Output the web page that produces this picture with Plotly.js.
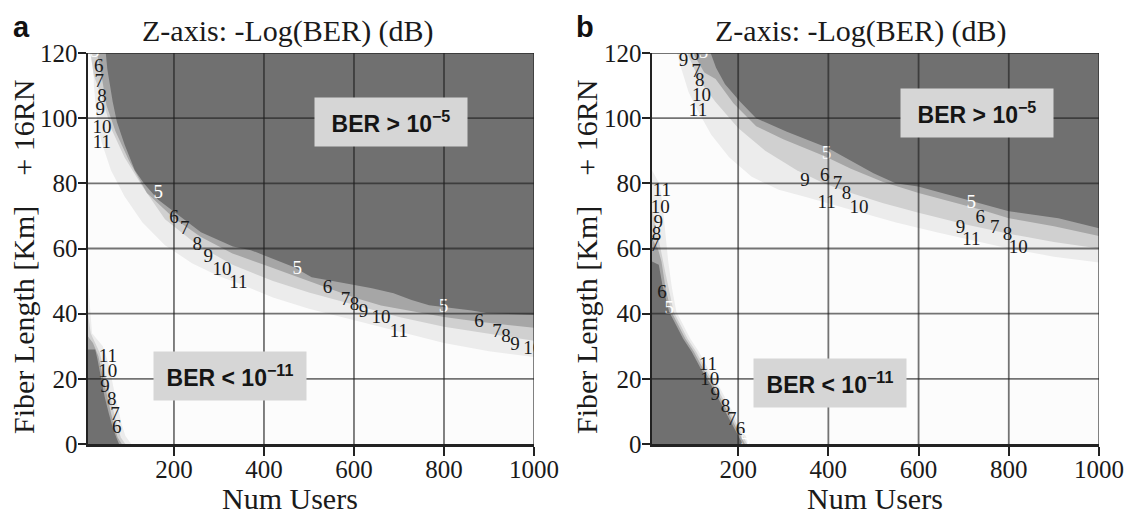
<!DOCTYPE html>
<html><head><meta charset="utf-8">
<script src="https://cdn.plot.ly/plotly-3.0.1.min.js"></script>
<style>html,body{margin:0;padding:0;background:#fff}</style>
</head><body>
<div id="chart" style="width:1126px;height:516px"></div>
<script>
// ---------- axis ticks ----------
const xTicks = [200, 400, 600, 800, 1000];
const yTicks = [0, 20, 40, 60, 80, 100, 120];

// ---------- panel a : contour lines of -log(BER), upper region (BER > 1e-5 side) ----------
const aUpL5x  = [9, 45, 52, 64, 73, 90, 113, 133, 165, 204, 260, 331, 371, 466, 506, 577, 640, 688, 728, 767, 807, 862, 894, 1000];
const aUpL5y  = [135, 125, 115, 105, 99, 92, 84, 80, 75, 71, 65, 60.6, 59.5, 54.3, 51.2, 49.4, 47.8, 46.3, 44.2, 42.6, 42, 41, 40.2, 39.5];
const aUpL6x  = [9, 25, 36, 50, 70, 100, 140, 200, 260, 330, 400, 470, 541, 600, 660, 720, 800, 878, 940, 1000];
const aUpL6y  = [135, 122, 115.6, 104, 96, 87, 77, 69.3, 63.5, 58.5, 55, 51.5, 47.8, 45, 42.5, 41, 39, 37.5, 36.5, 35.5];
const aUpL8x  = [9, 22, 40, 60, 90, 130, 180, 252, 330, 420, 500, 601, 700, 800, 938, 1000];
const aUpL8y  = [125, 113, 106.4, 97, 88, 79, 69, 61.1, 55, 50, 46.5, 42.6, 39, 36, 32.9, 31.5];
const aUpL11x = [18, 22, 30, 40, 60, 90, 130, 180, 240, 300, 343, 420, 500, 600, 700, 800, 900, 1000];
const aUpL11y = [135, 110, 98, 92.3, 84, 76, 68, 61, 55.5, 51.5, 49.3, 45, 41.5, 38, 34.4, 31, 28.5, 26.5];
// panel a : lower-left region (BER < 1e-11 side)
const aLoL5x  = [9, 25, 30, 38, 46, 55, 64, 72, 78];
const aLoL5y  = [29, 29, 26, 20, 14.5, 9.5, 5, 2, 0];
const aLoL6x  = [9, 20, 32, 42, 51, 60, 68, 75, 84];
const aLoL6y  = [33, 31, 27, 20.5, 14.5, 9.5, 5, 2, 0];
const aLoL8x  = [9, 15, 35, 48, 58, 66, 74, 82, 92];
const aLoL8y  = [40, 34, 28, 21, 15, 10, 5.5, 2, 0];
const aLoL11x = [9, 14, 18, 42, 56, 66, 75, 84, 92, 105];
const aLoL11y = [50, 42, 34, 30, 24, 17, 11, 6, 2.5, 0];

// ---------- panel b ----------
const bUpL5x  = [128, 139, 151, 171, 205, 240, 308, 398, 460, 500, 549, 599, 693, 800, 910, 1000];
const bUpL5y  = [128, 120, 115.5, 110.4, 105, 100, 95.8, 90.9, 86.2, 83.1, 80, 79, 75.5, 71.4, 69.3, 66.2];
const bUpL6x  = [85, 103, 125, 150, 190, 240, 300, 392, 450, 520, 600, 680, 737, 800, 900, 1000];
const bUpL6y  = [128, 119.2, 114, 112, 104.5, 97.5, 93.5, 88.3, 84.5, 80.5, 77, 74, 72, 69.3, 66.8, 63.8];
const bUpL8x  = [75, 90, 115, 150, 200, 260, 330, 390, 440, 520, 600, 700, 797, 900, 1000];
const bUpL8y  = [128, 119, 111.4, 105, 97, 90, 84, 80, 77.5, 74, 71, 67.5, 64.6, 62, 60];
const bUpL11x = [50, 70, 90, 111, 140, 180, 230, 290, 350, 396, 470, 550, 640, 717, 800, 900, 1000];
const bUpL11y = [128, 117, 108, 102.2, 95, 88, 82, 78, 75.8, 74, 71, 68, 65, 62.6, 60, 57.5, 55.5];
const bLoL5x  = [9, 24, 32, 47, 62, 78, 97, 117, 140, 160, 180, 200, 210];
const bLoL5y  = [56, 55, 48.9, 40.6, 36.6, 32.3, 28.3, 23.2, 18.1, 12.9, 7.8, 2.6, 0];
const bLoL6x  = [9, 22, 30, 40, 52, 67, 83, 102, 122, 145, 165, 185, 205, 215];
const bLoL6y  = [63, 60, 56, 47, 40.6, 36.6, 32.3, 28.3, 23.2, 18.1, 12.9, 7.8, 2.6, 0];
const bLoL8x  = [9, 19, 28, 38, 48, 57, 72, 88, 107, 127, 150, 170, 190, 210, 220];
const bLoL8y  = [72, 66, 60, 53, 46, 40.6, 36.6, 32.3, 28.3, 23.2, 18.1, 12.9, 7.8, 2.6, 0];
const bLoL11x = [9, 25, 32, 38, 45, 53, 63, 78, 94, 113, 133, 156, 176, 196, 216, 226];
const bLoL11y = [84, 80, 74, 65, 56, 48, 40.6, 36.6, 32.3, 28.3, 23.2, 18.1, 12.9, 7.8, 2.6, 0];

// ---------- contour labels ----------
const aLabText = ["5","6","7","8","9","10","11",  "5","6","7","8","9","10","11",  "5","6","7","8","9","10","11",  "5","6","7","8","9","10",  "11","10","9","8","7","6"];
const aLabX    = [24,33,34,40,36,40,40,  165,200,224,252,276,307,343,  474,541,581,601,621,660,700,  799,878,918,938,958,997,  53,53,47,62,69,73];
const aLabY    = [120.3,115.6,111,106.4,102.5,97,92.3,  77,69.3,66,61.1,57.4,53.4,49.3,  53.6,47.8,44,42.6,40.5,38.5,34.4,  42,37.5,34.4,32.9,30.4,29,  26.7,22,17.5,13.5,8.9,4.9];
const bLabText = ["9","6","5","7","8","10","11",  "5","9","6","7","8","11","10",  "5","6","7","8","9","11","10",  "11","10","9","8","7","6","5",  "11","10","9","8","7","6","5"];
const bLabX    = [79,103,123,107,115,119,111,  396,348,392,420,440,396,468,  717,737,769,797,693,717,821,  31,27,23,19,15,31,47,  133,137,149,172,186,205,216];
const bLabY    = [117.5,119.2,120,114,111.4,106.8,102.2,  88.9,80.6,82.3,79.7,76.6,74,72.5,  73.9,69.3,66.2,64.1,66.2,62.6,60,  77.5,72.4,67.8,64.2,60.6,46.3,41.3,  24.2,19.6,15,11.4,7.4,4.3,0.7];

// ---------- region boxes ----------
const boxText = ["BER &gt; 10<sup>\u22125</sup>", "BER &lt; 10<sup>\u221211</sup>"];
const aBoxX = [682, 325], aBoxY = [98.7, 20.9];
const bBoxX = [730, 404], bBoxY = [101.5, 18.8];

// ---------- styles ----------
const cDark = '#707070', cL6 = '#a6a6a6', cL8 = '#d0d0d0', cL11 = '#ececec';
const serif = "'Liberation Serif', 'Times New Roman', Times, serif";
const sans = "'Liberation Sans', Arial, Helvetica, sans-serif";

function above(xs, ys) {
  const n = xs.length;
  return {x: xs.concat([1010, 1010, xs[0]]), y: ys.concat([ys[n-1], 140, 140])};
}
function belowLeft(xs, ys) {
  const n = xs.length;
  return {x: xs.concat([xs[n-1], 0, 0]), y: ys.concat([-10, -10, ys[0]])};
}
function band(poly, color, xa, ya) {
  return {type: 'scatter', mode: 'lines', x: poly.x, y: poly.y, fill: 'toself',
          fillcolor: color, line: {width: 0, color: color}, hoverinfo: 'skip',
          showlegend: false, xaxis: xa, yaxis: ya};
}
function labels(t, x, y, xa, ya) {
  return {type: 'scatter', mode: 'text', x: x, y: y, text: t, hoverinfo: 'skip', showlegend: false,
          textfont: {family: serif, size: 19, color: t.map(s => s === '5' ? '#ffffff' : '#1a1a1a')},
          xaxis: xa, yaxis: ya};
}

const traces = [
  band(above(aUpL11x, aUpL11y), cL11, 'x', 'y'),
  band(above(aUpL8x, aUpL8y), cL8, 'x', 'y'),
  band(above(aUpL6x, aUpL6y), cL6, 'x', 'y'),
  band(above(aUpL5x, aUpL5y), cDark, 'x', 'y'),
  band(belowLeft(aLoL11x, aLoL11y), cL11, 'x', 'y'),
  band(belowLeft(aLoL8x, aLoL8y), cL8, 'x', 'y'),
  band(belowLeft(aLoL6x, aLoL6y), cL6, 'x', 'y'),
  band(belowLeft(aLoL5x, aLoL5y), cDark, 'x', 'y'),
  band(above(bUpL11x, bUpL11y), cL11, 'x2', 'y2'),
  band(above(bUpL8x, bUpL8y), cL8, 'x2', 'y2'),
  band(above(bUpL6x, bUpL6y), cL6, 'x2', 'y2'),
  band(above(bUpL5x, bUpL5y), cDark, 'x2', 'y2'),
  band(belowLeft(bLoL11x, bLoL11y), cL11, 'x2', 'y2'),
  band(belowLeft(bLoL8x, bLoL8y), cL8, 'x2', 'y2'),
  band(belowLeft(bLoL6x, bLoL6y), cL6, 'x2', 'y2'),
  band(belowLeft(bLoL5x, bLoL5y), cDark, 'x2', 'y2'),
  labels(aLabText, aLabX, aLabY, 'x', 'y'),
  labels(bLabText, bLabX, bLabY, 'x2', 'y2')
];

// grid lines drawn above the fills, built from tick arrays
const gridColor = 'rgba(30,30,30,0.62)';
const shapes = [];
[['x','y'],['x2','y2']].forEach(([xa, ya]) => {
  xTicks.forEach(v => shapes.push({type:'line', xref:xa, yref:ya, x0:v, x1:v, y0:yTicks[0], y1:yTicks[yTicks.length-1], layer:'above', line:{color:gridColor, width:1.8}}));
  yTicks.slice(1).forEach(v => shapes.push({type:'line', xref:xa, yref:ya, x0:9, x1:xTicks[xTicks.length-1], y0:v, y1:v, layer:'above', line:{color:gridColor, width:1.8}}));
});

function xAxis(dom, anchor) {
  return {domain: dom, anchor: anchor, range: [9, 1000], tickvals: xTicks, ticktext: xTicks.map(String),
          ticks: 'outside', ticklen: 9, tickwidth: 2, tickcolor: '#222', showline: true, linewidth: 2.5,
          linecolor: '#222', showgrid: false, zeroline: false, layer: 'above traces', fixedrange: true,
          ticklabelstandoff: -8,
          tickfont: {family: serif, size: 25, color: '#1a1a1a'}};
}
function yAxis(anchor) {
  return {domain: [0, 1], anchor: anchor, range: [0, 120], tickvals: yTicks, ticktext: yTicks.map(String),
          ticks: 'outside', ticklen: 8, tickwidth: 2, tickcolor: '#222', showline: true, linewidth: 2.5,
          linecolor: '#222', showgrid: false, zeroline: false, layer: 'above traces', fixedrange: true,
          ticklabelstandoff: -5,
          tickfont: {family: serif, size: 25, color: '#1a1a1a'}};
}

const W = 1011, H = 391, L = 88, B = 444;
const px = v => (v - L) / W, py = v => (B - v) / H;
const ann = [];
function txt(t, x, y, font, extra) {
  ann.push(Object.assign({text: t, xref: 'paper', yref: 'paper', x: px(x), y: py(y), showarrow: false,
    xanchor: 'center', yanchor: 'middle', font: font}, extra || {}));
}
const titleFont = {family: serif, size: 30, color: '#1a1a1a'};
txt('Z-axis: -Log(BER) (dB)', 288, 31, titleFont);
txt('Z-axis: -Log(BER) (dB)', 861, 31, titleFont);
txt('<b>a</b>', 21, 27, {family: sans, size: 29, color: '#111'});
txt('<b>b</b>', 585, 27, {family: sans, size: 29, color: '#111'});
const ytitle = 'Fiber Length [Km]\u00a0\u00a0\u00a0\u00a0+ 16RN';
txt(ytitle, 23, 257, titleFont, {textangle: -90});
txt(ytitle, 586, 257, titleFont, {textangle: -90});
txt('Num Users', 290, 498, titleFont);
txt('Num Users', 875, 498, titleFont);
function boxes(xs, ys, xr, yr) {
  xs.forEach((x, i) => ann.push({text: '<b>' + boxText[i] + '</b>', xref: xr, yref: yr, x: x, y: ys[i],
    showarrow: false, bgcolor: '#d6d6d6', width: 150, height: 46, borderpad: 1,
    font: {family: sans, size: 23, color: '#151515'}}));
}
boxes(aBoxX, aBoxY, 'x', 'y');
boxes(bBoxX, bBoxY, 'x2', 'y2');

const layout = {
  width: 1126, height: 516,
  margin: {l: 88, r: 27, t: 53, b: 72},
  paper_bgcolor: '#ffffff', plot_bgcolor: '#fcfcfc',
  showlegend: false,
  xaxis: xAxis([0, (534 - 88) / W], 'y'),
  yaxis: yAxis('x'),
  xaxis2: xAxis([(652 - 88) / W, 1], 'y2'),
  yaxis2: yAxis('x2'),
  shapes: shapes,
  annotations: ann
};
Plotly.newPlot('chart', traces, layout, {staticPlot: true, displayModeBar: false});
</script>
</body></html>
